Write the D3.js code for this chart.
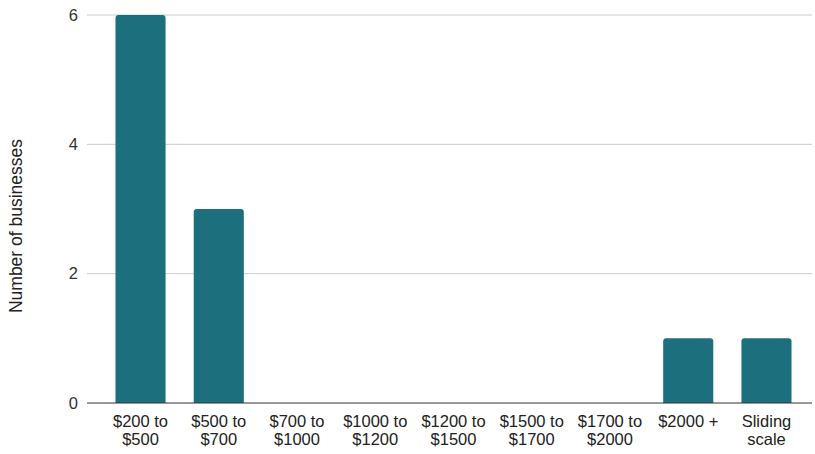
<!DOCTYPE html>
<html><head><meta charset="utf-8">
<script src="https://cdn.jsdelivr.net/npm/d3@7"></script>
<style>body{margin:0;background:#fff;}svg{display:block;font-family:"Liberation Sans",Arial,sans-serif;}</style>
</head><body>
<script>
const categories = [["$200 to","$500"],["$500 to","$700"],["$700 to","$1000"],["$1000 to","$1200"],["$1200 to","$1500"],["$1500 to","$1700"],["$1700 to","$2000"],["$2000 +"],["Sliding","scale"]];
const values = [6,3,0,0,0,0,0,1,1];
const yTicks = [0,2,4,6];
const yTitle = "Number of businesses";

const W = 815, H = 454;
const svg = d3.select("body").append("svg").attr("width", W).attr("height", H);
const keys = categories.map((c,i)=>String(i));
const x = d3.scaleBand().domain(keys).range([101.4, 805.6]).paddingInner(0.36).paddingOuter(0.18);
const y = d3.scaleLinear().domain([0,6]).range([403, 15]);
const gridX0 = 87, gridX1 = 812;
const fs = 16.5;

svg.append("g").selectAll("line").data(yTicks.filter(d=>d>0)).join("line")
  .attr("x1", gridX0).attr("x2", gridX1)
  .attr("y1", d=>y(d)).attr("y2", d=>y(d))
  .attr("stroke", "#cccccc").attr("stroke-width", 1);

svg.append("g").selectAll("text").data(yTicks).join("text")
  .attr("x", 78).attr("y", d=>y(d)).attr("dy", "0.35em")
  .attr("text-anchor", "end").attr("font-size", fs).attr("fill", "#333")
  .text(d=>d);

const r = 3;
svg.append("g").selectAll("path").data(values.map((v,i)=>({v,i}))).join("path")
  .filter(d=>d.v>0)
  .attr("fill", "#1c6f7c")
  .attr("d", d=>{
    const x0 = x(String(d.i)), w = x.bandwidth(), y0 = y(d.v), y1 = y(0);
    return `M${x0},${y1}V${y0+r}Q${x0},${y0} ${x0+r},${y0}H${x0+w-r}Q${x0+w},${y0} ${x0+w},${y0+r}V${y1}Z`;
  });

svg.append("line").attr("x1", gridX0).attr("x2", gridX1).attr("y1", y(0)).attr("y2", y(0))
  .attr("stroke", "#333").attr("stroke-width", 1);

const xl = svg.append("g").selectAll("text").data(categories.map((c,i)=>({c,i}))).join("text")
  .attr("x", d=>x(String(d.i)) + x.bandwidth()/2)
  .attr("y", 415)
  .attr("text-anchor", "middle").attr("font-size", fs).attr("fill", "#222");
xl.selectAll("tspan").data(d=>d.c).join("tspan")
  .attr("x", function(){ return d3.select(this.parentNode).attr("x"); })
  .attr("dy", (d,j)=> j===0 ? "0.71em" : "1.08em")
  .text(d=>d);

svg.append("text").attr("transform", `translate(22,226) rotate(-90)`)
  .attr("text-anchor", "middle").attr("font-size", 17.5).attr("fill", "#222")
  .text(yTitle);
</script>
</body></html>
